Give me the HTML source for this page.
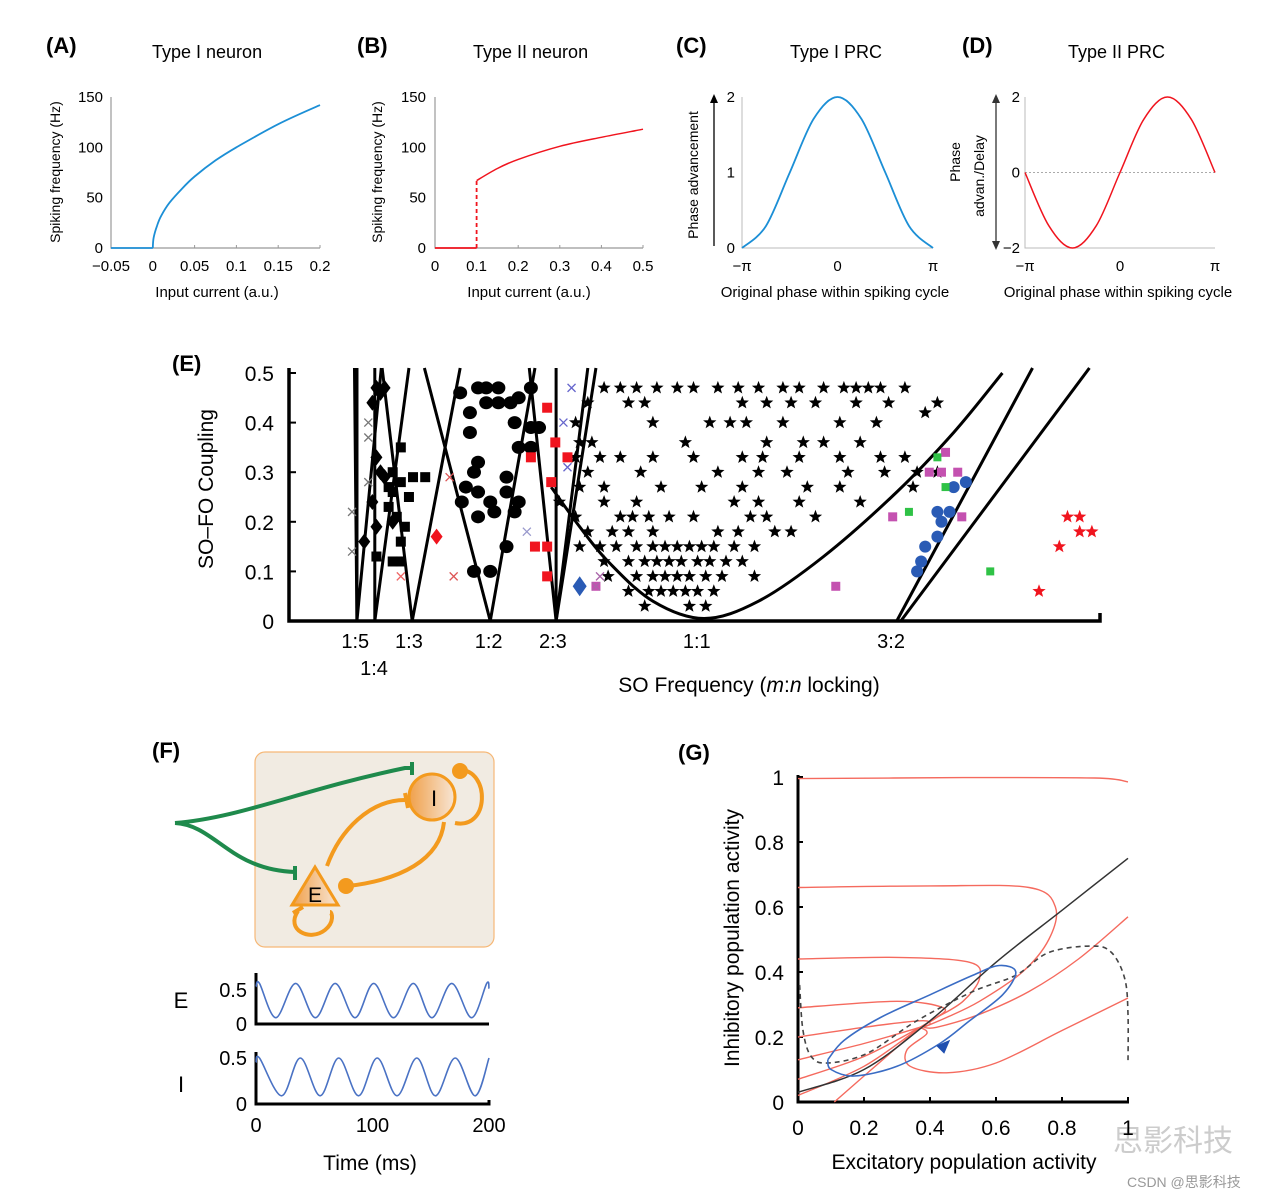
<!DOCTYPE html>
<html><head><meta charset="utf-8">
<style>
html,body{margin:0;padding:0;background:#fff;}
svg{display:block;font-family:"Liberation Sans","Noto Sans CJK SC",sans-serif;}
</style></head>
<body>
<svg id="fig" width="1280" height="1199" viewBox="0 0 1280 1199" xmlns="http://www.w3.org/2000/svg">
<g id="static">
  <text x="46" y="53" font-size="22" font-weight="bold">(A)</text>
  <text x="152" y="58" font-size="18">Type I neuron</text>
  <text x="357" y="53" font-size="22" font-weight="bold">(B)</text>
  <text x="473" y="58" font-size="18">Type II neuron</text>
  <text x="676" y="53" font-size="22" font-weight="bold">(C)</text>
  <text x="790" y="58" font-size="18">Type I PRC</text>
  <text x="962" y="53" font-size="22" font-weight="bold">(D)</text>
  <text x="1068" y="58" font-size="18">Type II PRC</text>
  <text x="172" y="371" font-size="22" font-weight="bold">(E)</text>
  <text x="152" y="758" font-size="22" font-weight="bold">(F)</text>
  <text x="678" y="760" font-size="22" font-weight="bold">(G)</text>

  <text transform="translate(60,172) rotate(-90)" text-anchor="middle" font-size="14">Spiking frequency (Hz)</text>
  <text x="217" y="297" text-anchor="middle" font-size="15">Input current (a.u.)</text>
  <text transform="translate(382,172) rotate(-90)" text-anchor="middle" font-size="14">Spiking frequency (Hz)</text>
  <text x="529" y="297" text-anchor="middle" font-size="15">Input current (a.u.)</text>
  <text transform="translate(698,175) rotate(-90)" text-anchor="middle" font-size="14">Phase advancement</text>
  <text x="835" y="297" text-anchor="middle" font-size="15">Original phase within spiking cycle</text>
  <text transform="translate(960,162) rotate(-90)" text-anchor="middle" font-size="14">Phase</text>
  <text transform="translate(984,176) rotate(-90)" text-anchor="middle" font-size="14">advan./Delay</text>
  <text x="1118" y="297" text-anchor="middle" font-size="15">Original phase within spiking cycle</text>
  <text transform="translate(213,489) rotate(-90)" text-anchor="middle" font-size="21">SO–FO Coupling</text>
  <text x="749" y="692" text-anchor="middle" font-size="21">SO Frequency (<tspan font-style="italic">m</tspan>:<tspan font-style="italic">n</tspan> locking)</text>
  <text transform="translate(739,938) rotate(-90)" text-anchor="middle" font-size="21">Inhibitory population activity</text>
  <text x="964" y="1169" text-anchor="middle" font-size="21">Excitatory population activity</text>

  <line x1="714" y1="246" x2="714" y2="100" stroke="#000" stroke-width="1.3"/>
  <polygon points="714,94 710,103 718,103" fill="#000"/>
  <line x1="996" y1="102" x2="996" y2="242" stroke="#333" stroke-width="1.3"/>
  <polygon points="996,94 992,103 1000,103" fill="#333"/>
  <polygon points="996,250 992,241 1000,241" fill="#333"/>

  <g>
    <rect x="255" y="752" width="239" height="195" rx="10" fill="#f1ebe2" stroke="#f6b877" stroke-width="1.2"/>
    <path d="M175,823 C240,818 300,790 405,768 L412,768" fill="none" stroke="#1f8a4c" stroke-width="4"/>
    <line x1="412" y1="762" x2="412" y2="775" stroke="#1f8a4c" stroke-width="4"/>
    <path d="M175,823 C215,825 230,870 295,872" fill="none" stroke="#1f8a4c" stroke-width="4"/>
    <line x1="295" y1="866" x2="295" y2="880" stroke="#1f8a4c" stroke-width="4"/>
    <defs><linearGradient id="og" x1="0" x2="1"><stop offset="0" stop-color="#f0a04a"/><stop offset="1" stop-color="#f7e6d6"/></linearGradient></defs>
    <path d="M327,866 C340,830 370,800 405,800" fill="none" stroke="#f39a1e" stroke-width="4"/>
    <line x1="405" y1="793" x2="408" y2="808" stroke="#f39a1e" stroke-width="4"/>
    <path d="M444,822 C440,860 400,880 348,886" fill="none" stroke="#f39a1e" stroke-width="4"/>
    <circle cx="346" cy="886" r="8" fill="#f39a1e"/>
    <path d="M460,770 C490,770 490,830 455,823" fill="none" stroke="#f39a1e" stroke-width="4"/>
    <circle cx="460" cy="771" r="8" fill="#f39a1e"/>
    <circle cx="432" cy="797" r="23" fill="url(#og)" stroke="#f39a1e" stroke-width="3"/>
    <text x="434" y="806" text-anchor="middle" font-size="22">I</text>
    <path d="M298,911 C285,930 310,942 325,930 C335,922 332,912 330,912" fill="none" stroke="#f39a1e" stroke-width="4"/>
    <line x1="293" y1="913" x2="303" y2="907" stroke="#f39a1e" stroke-width="4"/>
    <polygon points="315,867 292,905 338,905" fill="url(#og)" stroke="#f39a1e" stroke-width="3"/>
    <text x="315" y="902" text-anchor="middle" font-size="21">E</text>
  </g>
  <text x="181" y="1008" text-anchor="middle" font-size="22">E</text>
  <text x="181" y="1092" text-anchor="middle" font-size="22">I</text>
  <text x="370" y="1170" text-anchor="middle" font-size="21">Time (ms)</text>

  <text x="1113" y="1151" font-size="30" fill="#ccc">思影科技</text>
  <text x="1127" y="1187" font-size="14" fill="#999">CSDN @思影科技</text>
</g>
<g id="charts"></g>
</svg>

<script>
// Panel A
const aFlatCurrent = [-0.05, 0];
const aFlatFreq = [0, 0];
const aCurrent = [0, 0.001, 0.005, 0.01, 0.02, 0.035, 0.05, 0.075, 0.1, 0.15, 0.2];
const aFreq    = [0, 10, 22, 32, 45, 59, 71, 87, 100, 123, 142];
const aXTicks = [-0.05, 0, 0.05, 0.1, 0.15, 0.2];
const aXTickLabels = ["−0.05", "0", "0.05", "0.1", "0.15", "0.2"];
const aYTicks = [0, 50, 100, 150];
// Panel B
const bFlatCurrent = [0, 0.1];
const bFlatFreq = [0, 0];
const bJumpFreq = [0, 67];
const bCurrent = [0.1, 0.15, 0.2, 0.3, 0.4, 0.5];
const bFreq    = [67, 79, 88, 101, 110, 118];
const bXTicks = [0, 0.1, 0.2, 0.3, 0.4, 0.5];
const bYTicks = [0, 50, 100, 150];
// Panel C / D
const prcPhase = [-1, -0.75, -0.5, -0.25, 0, 0.25, 0.5, 0.75, 1];
const cPRC = [0, 0.29, 1, 1.71, 2, 1.71, 1, 0.29, 0];
const dPRC = [0, -1.41, -2, -1.41, 0, 1.41, 2, 1.41, 0];
const phaseTickLabels = ["−π", "0", "π"];
const cYTicks = [0, 1, 2];
const dYTicks = [-2, 0, 2];
// Panel E
const eLockX = [0.84, 1.07, 1.50, 2.48, 3.27, 5.04, 7.43];
const eLockLabels = ["1:5", "1:4", "1:3", "1:2", "2:3", "1:1", "3:2"];
const eYTicks = [0, 0.1, 0.2, 0.3, 0.4, 0.5];
const eTongues = [
  [0.83, 0.86, 0.86], [0.86, 0.86, 1.16], [1.08, 1.08, 1.50], [1.17, 1.54, 2.13],
  [1.69, 2.50, 3.05], [2.98, 3.31, 3.80], [3.70, 3.31, 3.31]
];
const eParabola = [[3.25,0.27],[3.6,0.19],[3.95,0.12],[4.5,0.04],[5.13,0.005],[5.8,0.04],[6.6,0.13],[7.5,0.26],[8.2,0.38],[8.8,0.5]];
const e32Lines = [[7.50, 9.17], [7.55, 9.87]];
const starX = [3.9,4.1,4.3,4.55,4.8,5.0,5.3,5.55,5.8,6.1,6.3,6.6,6.85,7.0,7.15,7.3,7.6,
 3.7,4.2,4.4,5.6,5.9,6.2,6.5,7.0,7.4,8.0,7.85,
 3.55,4.5,5.2,5.45,5.65,6.1,6.8,7.25,
 3.6,3.75,4.9,5.9,6.35,6.6,7.05,
 3.55,3.85,4.1,4.5,5.0,5.6,5.85,6.3,6.8,7.3,7.6,
 3.7,4.35,5.3,5.8,6.15,6.9,7.35,7.75,8.0,
 3.6,3.9,4.6,5.1,5.6,6.4,6.8,7.7,
 3.35,3.9,4.3,5.5,5.8,6.3,7.05,
 3.55,4.1,4.25,4.45,4.7,5.0,5.7,5.9,6.5,
 3.7,4.0,4.2,4.5,5.3,5.55,6.0,6.2,
 3.6,3.85,4.05,4.3,4.5,4.65,4.8,4.95,5.1,5.25,5.5,5.75,
 3.9,4.2,4.4,4.55,4.7,4.85,5.05,5.2,5.4,5.6,
 3.95,4.3,4.5,4.65,4.8,4.95,5.15,5.35,5.75,
 4.2,4.45,4.6,4.75,4.9,5.05,5.25,
 4.4,4.95,5.15];
const starY = [.47,.47,.47,.47,.47,.47,.47,.47,.47,.47,.47,.47,.47,.47,.47,.47,.47,
 .44,.44,.44,.44,.44,.44,.44,.44,.44,.44,.42,
 .40,.40,.40,.40,.40,.40,.40,.40,
 .36,.36,.36,.36,.36,.36,.36,
 .33,.33,.33,.33,.33,.33,.33,.33,.33,.33,.33,
 .30,.30,.30,.30,.30,.30,.30,.30,.30,
 .27,.27,.27,.27,.27,.27,.27,.27,
 .24,.24,.24,.24,.24,.24,.24,
 .21,.21,.21,.21,.21,.21,.21,.21,.21,
 .18,.18,.18,.18,.18,.18,.18,.18,
 .15,.15,.15,.15,.15,.15,.15,.15,.15,.15,.15,.15,
 .12,.12,.12,.12,.12,.12,.12,.12,.12,.12,
 .09,.09,.09,.09,.09,.09,.09,.09,.09,
 .06,.06,.06,.06,.06,.06,.06,
 .03,.03,.03];
const circleX = [2.13,2.35,2.45,2.6,3.0,2.45,2.6,2.25,2.75,2.8,3.0,3.1,2.25,2.85,3.0,2.35,2.3,2.2,2.35,2.15,2.5,2.7,2.7,2.55,2.35,2.8,2.85,2.7,2.5,2.3,2.85];
const circleY = [.46,.47,.47,.47,.47,.44,.44,.42,.44,.40,.39,.39,.38,.35,.35,.32,.30,.27,.26,.24,.24,.29,.26,.22,.21,.22,.24,.15,.10,.10,.45];
const squareX = [1.4,1.3,1.25,1.4,1.3,1.5,1.55,1.35,1.45,1.4,1.3,1.4,1.1,1.25,1.7];
const squareY = [.35,.30,.27,.28,.26,.25,.29,.21,.19,.16,.12,.12,.13,.23,.29];
const diamondX = [1.1,1.15,1.05,1.2,1.1,1.2,1.05,1.1,0.95,1.15,1.3];
const diamondY = [.47,.46,.44,.47,.33,.29,.24,.19,.16,.30,.20];
const redSquareX = [3.2,3.3,3.0,3.45,3.25,3.05,3.2,3.2];
const redSquareY = [.43,.36,.33,.33,.28,.15,.15,.09];
const redStarX = [9.6,9.75,9.75,9.9,9.5,9.25];
const redStarY = [.21,.21,.18,.18,.15,.06];
const blueCircleX = [7.75,7.8,7.85,8.0,8.05,8.0,8.2,8.35,8.15];
const blueCircleY = [.10,.12,.15,.17,.20,.22,.27,.28,.22];
const magentaX = [8.1,7.9,8.05,8.25,7.45,8.3,6.75,3.8];
const magentaY = [.34,.30,.30,.30,.21,.21,.07,.07];
const greenX = [8.0,8.1,7.65,8.65];
const greenY = [.33,.27,.22,.10];
const crossX = [0.8,0.8,1.0,1.0,1.0,2.0,2.05,1.4,3.5,3.4,3.45,2.95,3.85,3.8];
const crossY = [.22,.14,.40,.37,.28,.29,.09,.09,.47,.40,.31,.18,.09,.07];
const crossColor = ["#777","#777","#777","#777","#777","#d55","#d55","#e66","#66c","#66c","#66c","#99c","#a6a","#a6a"];
// Panel F
const fTicks = [0, 100, 200];
const eTraceT = [0,3,17,34,51,68,85,101,118,135,151,168,185,198,200];
const eTraceV = [0.55,0.6,0.08,0.6,0.08,0.6,0.08,0.6,0.08,0.6,0.08,0.6,0.08,0.6,0.52];
const iTraceT = [0,3,22,38,55,71,88,104,121,138,154,171,188,200];
const iTraceV = [0.45,0.5,0.08,0.5,0.08,0.5,0.08,0.5,0.08,0.5,0.08,0.5,0.08,0.5];
// Panel G
const gTicks = [0, 0.2, 0.4, 0.6, 0.8, 1];
const gTickLabels = ["0","0.2","0.4","0.6","0.8","1"];
const gNullE = [[0,0.03],[0.2,0.1],[0.4,0.25],[0.6,0.43],[0.8,0.59],[1,0.75]];
const gNullI = [[0.005,0.36],[0.015,0.22],[0.04,0.14],[0.09,0.12],[0.21,0.15],[0.36,0.25],[0.53,0.34],[0.66,0.39],[0.76,0.46],[0.89,0.48],[0.95,0.46],[0.99,0.38],[1.0,0.27],[1.0,0.12]];
const gLimitCycle = [[0.09,0.13],[0.14,0.19],[0.25,0.26],[0.4,0.33],[0.53,0.39],[0.61,0.42],[0.66,0.40],[0.62,0.33],[0.52,0.25],[0.43,0.18],[0.3,0.11],[0.17,0.08],[0.1,0.1],[0.09,0.13]];
const gTraj = [
  [[0,0.995],[0.5,0.998],[0.9,0.997],[1,0.985]],
  [[0,0.66],[0.4,0.665],[0.7,0.66],[0.78,0.6],[0.76,0.5],[0.68,0.4],[0.55,0.31],[0.45,0.26],[0.38,0.23]],
  [[0,0.44],[0.3,0.445],[0.52,0.43],[0.55,0.38],[0.5,0.31],[0.42,0.26],[0.37,0.23]],
  [[0,0.29],[0.3,0.31],[0.44,0.29],[0.42,0.26],[0.37,0.23]],
  [[0,0.20],[0.2,0.23],[0.37,0.25],[0.4,0.24],[0.37,0.23]],
  [[0,0.13],[0.2,0.18],[0.37,0.23]],
  [[0,0.07],[0.2,0.14],[0.37,0.23]],
  [[0,0.02],[0.2,0.11],[0.37,0.23]],
  [[0.11,0],[0.2,0.08],[0.37,0.23]],
  [[1,0.57],[0.85,0.44],[0.7,0.34],[0.55,0.27],[0.42,0.23],[0.38,0.23]],
  [[1,0.32],[0.8,0.22],[0.6,0.12],[0.45,0.09],[0.34,0.11],[0.33,0.16],[0.39,0.21],[0.37,0.23]]
];
const gArrow = [0.44, 0.17];

const NS = "http://www.w3.org/2000/svg";
const root = document.getElementById("charts");
function lin(d0, d1, r0, r1) { return v => r0 + (v - d0) * (r1 - r0) / (d1 - d0); }
function mk(tag, attrs, parent) {
  const el = document.createElementNS(NS, tag);
  for (const k in attrs) el.setAttribute(k, attrs[k]);
  (parent || root).appendChild(el);
  return el;
}
function smoothPath(pts) {
  let d = "M" + pts[0][0].toFixed(1) + "," + pts[0][1].toFixed(1);
  for (let i = 0; i < pts.length - 1; i++) {
    const p0 = pts[i - 1] || pts[i], p1 = pts[i], p2 = pts[i + 1], p3 = pts[i + 2] || p2;
    const c1 = [p1[0] + (p2[0] - p0[0]) / 6, p1[1] + (p2[1] - p0[1]) / 6];
    const c2 = [p2[0] - (p3[0] - p1[0]) / 6, p2[1] - (p3[1] - p1[1]) / 6];
    d += "C" + c1.map(v => v.toFixed(1)) + " " + c2.map(v => v.toFixed(1)) + " " + p2[0].toFixed(1) + "," + p2[1].toFixed(1);
  }
  return d;
}
function label(x, y, txt, size, anchor) {
  const t = mk("text", {x: x, y: y, "font-size": size, "text-anchor": anchor || "middle"});
  t.textContent = txt;
  return t;
}

// Panel A
{
  const X = lin(-0.05, 0.2, 111, 320), Y = lin(0, 150, 248, 97);
  const ax = mk("path", {d: `M111,97 L111,248 L320,248`, fill: "none", stroke: "#999", "stroke-width": 1.2});
  
  
  aXTicks.forEach((v, i) => {
    mk("line", {x1: X(v), x2: X(v), y1: 248, y2: 245, stroke: "#999"});
    const t = label(X(v), 271, aXTickLabels[i], 15);
    
    
  });
  aYTicks.forEach(v => {
    const t = label(103, Y(v) + 5, String(v), 15, "end");
    
    
  });
  const fl = mk("line", {x1: X(aFlatCurrent[0]), x2: X(aFlatCurrent[1]), y1: Y(aFlatFreq[0]), y2: Y(aFlatFreq[1]), stroke: "#1c8fd6", "stroke-width": 1.8});
  
  
  const p = mk("path", {d: smoothPath(aCurrent.map((c, i) => [X(c), Y(aFreq[i])])), fill: "none", stroke: "#1c8fd6", "stroke-width": 1.8});
  
  
}
// Panel B
{
  const X = lin(0, 0.5, 435, 643), Y = lin(0, 150, 248, 97);
  const ax = mk("path", {d: `M435,97 L435,248 L643,248`, fill: "none", stroke: "#999", "stroke-width": 1.2});
  
  
  bXTicks.forEach(v => {
    mk("line", {x1: X(v), x2: X(v), y1: 248, y2: 245, stroke: "#999"});
    const t = label(X(v), 271, String(v), 15);
    
    
  });
  bYTicks.forEach(v => {
    const t = label(426, Y(v) + 5, String(v), 15, "end");
    
    
  });
  const f = mk("line", {x1: X(bFlatCurrent[0]), x2: X(bFlatCurrent[1]), y1: Y(bFlatFreq[0]), y2: Y(bFlatFreq[1]), stroke: "#f0141e", "stroke-width": 1.8});
  
  
  const j = mk("line", {x1: X(0.1), x2: X(0.1), y1: Y(bJumpFreq[0]), y2: Y(bJumpFreq[1]), stroke: "#f0141e", "stroke-width": 1.8, "stroke-dasharray": "4,3"});
  
  
  const p = mk("path", {d: smoothPath(bCurrent.map((c, i) => [X(c), Y(bFreq[i])])), fill: "none", stroke: "#f0141e", "stroke-width": 1.5});
  
  
}
// Panel C
{
  const X = lin(-1, 1, 742, 933), Y = lin(0, 2, 248, 97);
  const ax = mk("path", {d: `M742,97 L742,248 L933,248`, fill: "none", stroke: "#bbb", "stroke-width": 1});
  
  
  [-1, 0, 1].forEach((v, i) => {
    const t = label(X(v), 271, phaseTickLabels[i], 15);
    
    
  });
  cYTicks.forEach(v => {
    const t = label(735, Y(v) + 5, String(v), 15, "end");
    
    
  });
  const p = mk("path", {d: smoothPath(prcPhase.map((c, i) => [X(c), Y(cPRC[i])])), fill: "none", stroke: "#1c8fd6", "stroke-width": 1.8});
  
  
}
// Panel D
{
  const X = lin(-1, 1, 1025, 1215), Y = lin(-2, 2, 248, 97);
  const ax = mk("path", {d: `M1025,97 L1025,248 L1215,248`, fill: "none", stroke: "#bbb", "stroke-width": 1});
  
  
  const z = mk("line", {x1: 1025, x2: 1215, y1: Y(0), y2: Y(0), stroke: "#aaa", "stroke-dasharray": "2,2"});
  
  
  [-1, 0, 1].forEach((v, i) => {
    const t = label(X(v), 271, phaseTickLabels[i], 15);
    
    
  });
  dYTicks.forEach(v => {
    const t = label(1020, Y(v) + 5, v < 0 ? "−" + Math.abs(v) : String(v), 15, "end");
    
    
  });
  const p = mk("path", {d: smoothPath(prcPhase.map((c, i) => [X(c), Y(dPRC[i])])), fill: "none", stroke: "#f0141e", "stroke-width": 1.5});
  
  
}
// Panel E
{
  const X = lin(0, 10, 287, 1100), Y = lin(0, 0.5, 621, 373);
  const ax = mk("path", {d: `M289,368 L289,621 L1100,621 L1100,613`, fill: "none", stroke: "#000", "stroke-width": 3.5});
  
  
  eYTicks.forEach(v => {
    mk("line", {x1: 289, x2: 296, y1: Y(v), y2: Y(v), stroke: "#000", "stroke-width": 2});
    const t = label(274, Y(v) + 8, String(v), 21, "end");
    
    
  });
  eLockX.forEach((v, i) => {
    const lower = eLockLabels[i] === "1:4";
    const t = label(X(v), lower ? 675 : 648, eLockLabels[i], 20);
    
    
  });
  const lg = mk("g", {fill: "none", stroke: "#000", "stroke-width": 3});
  
  
  eTongues.forEach(t => {
    mk("path", {d: `M${X(t[0])},${Y(0.5) - 5} L${X(t[1])},${Y(0)} L${X(t[2])},${Y(0.5) - 5}`}, lg);
  });
  mk("path", {d: smoothPath(eParabola.map(p => [X(p[0]), Y(p[1])]))}, lg);
  e32Lines.forEach(l => mk("line", {x1: X(l[0]), y1: Y(0), x2: X(l[1]), y2: Y(0.5) - 5}, lg));

  function starPath(cx, cy, r) {
    let d = "";
    for (let k = 0; k < 10; k++) {
      const rr = k % 2 ? r * 0.42 : r, a = -Math.PI / 2 + k * Math.PI / 5;
      d += (k ? "L" : "M") + (cx + rr * Math.cos(a)).toFixed(1) + "," + (cy + rr * Math.sin(a)).toFixed(1);
    }
    return d + "Z";
  }
  starX.forEach((x, i) => {
    const s = mk("path", {d: starPath(X(x), Y(starY[i]), 7), fill: "#000"});
    
    
  });
  circleX.forEach((x, i) => {
    const c = mk("ellipse", {cx: X(x), cy: Y(circleY[i]), rx: 7, ry: 6.5, fill: "#000"});
    
    
  });
  squareX.forEach((x, i) => {
    const s = mk("rect", {x: X(x) - 5, y: Y(squareY[i]) - 5, width: 10, height: 10, fill: "#000"});
    
    
  });
  diamondX.forEach((x, i) => {
    const cx = X(x), cy = Y(diamondY[i]);
    const d = mk("polygon", {points: `${cx},${cy - 8} ${cx + 6},${cy} ${cx},${cy + 8} ${cx - 6},${cy}`, fill: "#000"});
    
    
  });
  redSquareX.forEach((x, i) => {
    const s = mk("rect", {x: X(x) - 5, y: Y(redSquareY[i]) - 5, width: 10, height: 10, fill: "#f0141e"});
    
    
  });
  {
    const cx = X(1.84), cy = Y(0.17);
    const d = mk("polygon", {points: `${cx},${cy - 8} ${cx + 6},${cy} ${cx},${cy + 8} ${cx - 6},${cy}`, fill: "#f0141e"});
    
    
    const cx2 = X(3.6), cy2 = Y(0.07);
    const d2 = mk("polygon", {points: `${cx2},${cy2 - 10} ${cx2 + 7},${cy2} ${cx2},${cy2 + 10} ${cx2 - 7},${cy2}`, fill: "#2a5bb5"});
    
    
  }
  redStarX.forEach((x, i) => {
    const s = mk("path", {d: starPath(X(x), Y(redStarY[i]), 7), fill: "#f0141e"});
    
    
  });
  blueCircleX.forEach((x, i) => {
    const c = mk("ellipse", {cx: X(x), cy: Y(blueCircleY[i]), rx: 6, ry: 6, fill: "#2a5bb5"});
    
    
  });
  magentaX.forEach((x, i) => {
    const s = mk("rect", {x: X(x) - 4.5, y: Y(magentaY[i]) - 4.5, width: 9, height: 9, fill: "#c451b0"});
    
    
  });
  greenX.forEach((x, i) => {
    const s = mk("rect", {x: X(x) - 4, y: Y(greenY[i]) - 4, width: 8, height: 8, fill: "#2fc246"});
    
    
  });
  crossX.forEach((x, i) => {
    const cx = X(x), cy = Y(crossY[i]);
    const c = mk("path", {d: `M${cx - 4},${cy - 4}L${cx + 4},${cy + 4}M${cx + 4},${cy - 4}L${cx - 4},${cy + 4}`, stroke: crossColor[i], "stroke-width": 1.3});
    
    
  });
}
// Panel F traces
{
  const X = lin(0, 200, 256, 489);
  const Ye = lin(0, 0.5, 1023, 990), Yi = lin(0, 0.5, 1103, 1058);
  const ea = mk("path", {d: "M256,973 L256,1024 L489,1024", fill: "none", stroke: "#000", "stroke-width": 3});
  
  
  const ia = mk("path", {d: "M256,1052 L256,1104 L489,1104 L489,1100", fill: "none", stroke: "#000", "stroke-width": 3});
  
  
  label(247, Ye(0.5) + 7, "0.5", 20, "end");
  label(247, Ye(0) + 8, "0", 20, "end");
  label(247, Yi(0.5) + 7, "0.5", 20, "end");
  label(247, Yi(0) + 8, "0", 20, "end");
  fTicks.forEach(v => {
    const t = label(X(v), 1132, String(v), 20);
    
    
  });
  const e = mk("path", {d: smoothPath(eTraceT.map((t, i) => [X(t), Ye(eTraceV[i])])), fill: "none", stroke: "#4a72c4", "stroke-width": 1.6});
  
  
  const i2 = mk("path", {d: smoothPath(iTraceT.map((t, i) => [X(t), Yi(iTraceV[i])])), fill: "none", stroke: "#4a72c4", "stroke-width": 1.6});
  
  
}
// Panel G
{
  const X = lin(0, 1, 798, 1128), Y = lin(0, 1, 1102, 777);
  const ax = mk("path", {d: "M798,775 L798,1102 L1129,1102", fill: "none", stroke: "#000", "stroke-width": 3});
  
  
  gTicks.forEach((v, i) => {
    mk("line", {x1: X(v), x2: X(v), y1: 1102, y2: 1097, stroke: "#000", "stroke-width": 2});
    mk("line", {x1: 798, x2: 803, y1: Y(v), y2: Y(v), stroke: "#000", "stroke-width": 2});
    const tx = label(X(v), 1135, gTickLabels[i], 21);
    
    
    const ty = label(784, Y(v) + 8, gTickLabels[i], 21, "end");
    
    
  });
  gTraj.forEach(tr => {
    const p = mk("path", {d: smoothPath(tr.map(q => [X(q[0]), Y(q[1])])), fill: "none", stroke: "#f56a5e", "stroke-width": 1.4});
    
    
  });
  const ne = mk("path", {d: smoothPath(gNullE.map(q => [X(q[0]), Y(q[1])])), fill: "none", stroke: "#333", "stroke-width": 1.5});
  
  
  const ni = mk("path", {d: smoothPath(gNullI.map(q => [X(q[0]), Y(q[1])])), fill: "none", stroke: "#444", "stroke-width": 1.6, "stroke-dasharray": "5,4"});
  
  
  const lc = mk("path", {d: smoothPath(gLimitCycle.map(q => [X(q[0]), Y(q[1])])), fill: "none", stroke: "#3a6cc4", "stroke-width": 1.6});
  
  
  const ax0 = X(gArrow[0]), ay0 = Y(gArrow[1]);
  const ar = mk("polygon", {points: `${ax0 + 7},${ay0 - 7} ${ax0 + 1},${ay0 + 7} ${ax0 - 7},${ay0 - 1}`, fill: "#1f4fb0"});
  
  
}
</script>
</body></html>
